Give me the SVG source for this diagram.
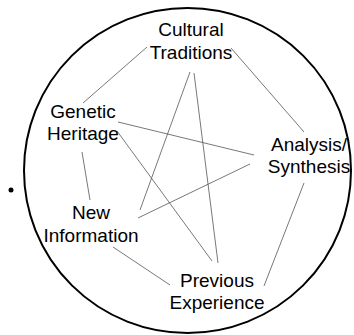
<svg xmlns="http://www.w3.org/2000/svg" width="354" height="335" viewBox="0 0 354 335">
<style>
.t{font-family:"Liberation Sans",Arial,sans-serif;font-size:19px;fill:#000;text-anchor:middle}
.c{stroke:#555;stroke-width:0.8;fill:none}
</style>
<rect width="354" height="335" fill="#fff"/>
<ellipse id="circle" cx="187.5" cy="170.5" rx="163.5" ry="162.5" fill="none" stroke="#000" stroke-width="2"/>
<circle id="bullet" cx="11" cy="190" r="2.5" fill="#000"/>
<g id="connectors">
<line class="c" x1="147" y1="47" x2="83" y2="103"/>
<line class="c" x1="231" y1="48" x2="304" y2="132"/>
<line class="c" x1="118" y1="122" x2="254" y2="155"/>
<line class="c" x1="117" y1="131" x2="212" y2="261"/>
<line class="c" x1="82" y1="152" x2="90" y2="200"/>
<line class="c" x1="190" y1="72" x2="140" y2="210"/>
<line class="c" x1="194" y1="73" x2="218" y2="263"/>
<line class="c" x1="138" y1="218" x2="250" y2="164"/>
<line class="c" x1="113" y1="247" x2="170" y2="285"/>
<line class="c" x1="304" y1="183" x2="264" y2="286"/>
</g>
<g id="cultural"><text class="t" x="191" y="36">Cultural</text><text class="t" x="191" y="59">Traditions</text></g>
<g id="genetic"><text class="t" x="83" y="118">Genetic</text><text class="t" x="83" y="140">Heritage</text></g>
<g id="analysis"><text class="t" x="309" y="151">Analysis/</text><text class="t" x="309" y="172.5">Synthesis</text></g>
<g id="newinfo"><text class="t" x="91" y="219">New</text><text class="t" x="91" y="242">Information</text></g>
<g id="previous"><text class="t" x="217" y="287">Previous</text><text class="t" x="217" y="309">Experience</text></g>
</svg>
